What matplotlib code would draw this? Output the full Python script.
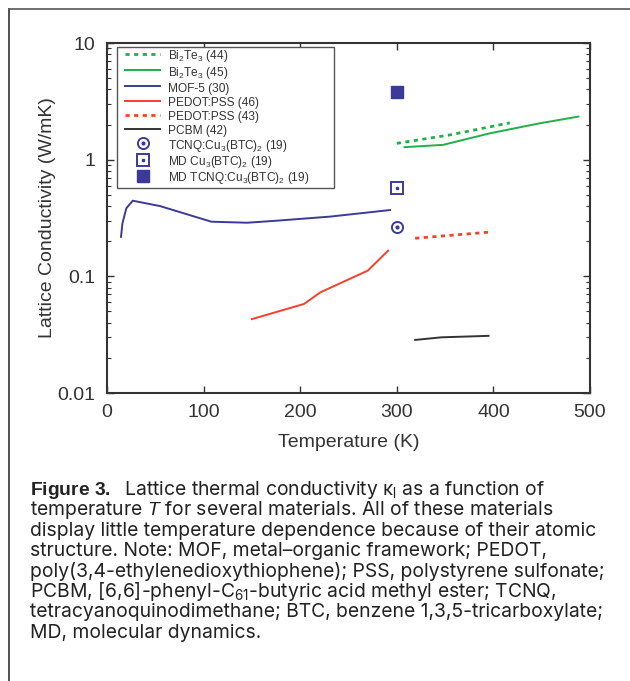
import matplotlib
matplotlib.use("Agg")
import matplotlib.pyplot as plt
from matplotlib.legend_handler import HandlerTuple, HandlerLine2D
from matplotlib.lines import Line2D

plt.rcParams['font.family'] = ['Liberation Sans', 'DejaVu Sans']
plt.rcParams['mathtext.fontset'] = 'custom'
plt.rcParams['mathtext.rm'] = 'Liberation Sans'
plt.rcParams['mathtext.it'] = 'Liberation Sans:italic'
plt.rcParams['mathtext.bf'] = 'Liberation Sans:bold'
plt.rcParams['mathtext.default'] = 'regular'

# ---- data ----
bi44_T = [300, 355, 417]
bi44_k = [1.38, 1.63, 2.07]
bi45_T = [308, 348, 396, 448, 488]
bi45_k = [1.28, 1.34, 1.68, 2.05, 2.34]
mof_T = [14.5, 16, 20, 26.6, 55, 108, 145, 176, 231, 293]
mof_k = [0.218, 0.285, 0.383, 0.445, 0.40, 0.294, 0.288, 0.30, 0.325, 0.37]
ped46_T = [150, 204, 221, 270, 291]
ped46_k = [0.043, 0.058, 0.073, 0.112, 0.166]
ped43_T = [319, 395]
ped43_k = [0.212, 0.239]
pcbm_T = [319, 346, 395]
pcbm_k = [0.0285, 0.030, 0.0309]
tcnq_T = [300]
tcnq_k = [0.267]
mdcu_T = [300]
mdcu_k = [0.57]
mdtcnq_T = [300]
mdtcnq_k = [3.83]

labels = [r'Bi$_2$Te$_3$ (44)', r'Bi$_2$Te$_3$ (45)', 'MOF-5 (30)', 'PEDOT:PSS (46)',
          'PEDOT:PSS (43)', 'PCBM (42)', r'TCNQ:Cu$_3$(BTC)$_2$ (19)',
          r'MD Cu$_3$(BTC)$_2$ (19)', r'MD TCNQ:Cu$_3$(BTC)$_2$ (19)']
xticks = [0, 100, 200, 300, 400, 500]
yticks = [0.01, 0.1, 1, 10]
yticklabels = ['0.01', '0.1', '1', '10']

green = '#1fb04a'
blue = '#3b3a98'
red = '#f5402a'
black = '#333333'
txt = '#333333'

fig = plt.figure(figsize=(6.3, 6.81), dpi=100)
ax = fig.add_axes([107/630, 1-393/681, 483/630, 350/681])

lw = 1.4
dots = (0, (1.5, 1.6))
h1, = ax.plot(bi44_T, bi44_k, color=green, lw=2.0, ls=dots)
h2, = ax.plot(bi45_T, bi45_k, color=green, lw=lw)
h3, = ax.plot(mof_T, mof_k, color=blue, lw=lw)
h4, = ax.plot(ped46_T, ped46_k, color=red, lw=lw)
h5, = ax.plot(ped43_T, ped43_k, color=red, lw=2.0, ls=dots)
h6, = ax.plot(pcbm_T, pcbm_k, color=black, lw=lw)
h7a, = ax.plot(tcnq_T, tcnq_k, ls='none', marker='o', ms=8, mfc='none', mec=blue, mew=1.4)
h7b, = ax.plot(tcnq_T, tcnq_k, ls='none', marker='o', ms=2, mfc=blue, mec=blue)
h8a, = ax.plot(mdcu_T, mdcu_k, ls='none', marker='s', ms=8, mfc='none', mec=blue, mew=1.4)
h8b, = ax.plot(mdcu_T, mdcu_k, ls='none', marker='s', ms=1.8, mfc=blue, mec=blue)
h9, = ax.plot(mdtcnq_T, mdtcnq_k, ls='none', marker='s', ms=8, mfc=blue, mec=blue)

ax.set_yscale('log')
ax.set_xlim(0, 500)
ax.set_ylim(0.01, 10)
ax.set_xticks(xticks)
ax.set_xticklabels([str(t) for t in xticks])
ax.set_yticks(yticks)
ax.set_yticklabels(yticklabels)
ax.tick_params(which='both', direction='in', top=True, right=True, labelsize=14, colors=txt)
ax.tick_params(which='major', length=5, width=1.0)
ax.tick_params(axis='x', which='major', pad=8)
ax.tick_params(axis='y', which='major', pad=8.5)
ax.tick_params(which='minor', length=3, width=0.8)
for s in ax.spines.values():
    s.set_linewidth(1.5)
    s.set_color('#333333')

ax.set_xlabel('Temperature (K)', fontsize=14, color=txt, labelpad=9)
ax.set_ylabel('Lattice Conductivity (W/mK)', fontsize=14, color=txt, labelpad=1)

xp = 0.6
leg = ax.legend([h1, h2, h3, h4, h5, h6, (h7a, h7b), (h8a, h8b), h9], labels,
                handler_map={Line2D: HandlerLine2D(xpad=xp),
                             tuple: HandlerTuple(ndivide=1, pad=0, xpad=xp)},
                loc='upper left', bbox_to_anchor=(10/483, 0.3, 217/483, 346/350 - 0.3),
                mode='expand', fontsize=8.6,
                frameon=True, fancybox=False, edgecolor='#555555', framealpha=1,
                labelspacing=0.04, handleheight=1.33, handlelength=3.5, handletextpad=0.67,
                borderpad=0.1, borderaxespad=0)
leg.get_frame().set_linewidth(1.0)
for t in leg.get_texts():
    t.set_color(txt)

# frame around figure
fig.add_artist(Line2D([9/630, 9/630], [0, 1-9/681], transform=fig.transFigure, color='#333333', lw=1.2))
fig.add_artist(Line2D([9/630, 1], [1-9/681, 1-9/681], transform=fig.transFigure, color='#555555', lw=1.2))

caption = [
    r'$\mathbf{Figure\ 3.}$  Lattice thermal conductivity κ$_\mathrm{l}$ as a function of',
    r'temperature $\mathit{T}$ for several materials. All of these materials',
    'display little temperature dependence because of their atomic',
    'structure. Note: MOF, metal–organic framework; PEDOT,',
    'poly(3,4-ethylenedioxythiophene); PSS, polystyrene sulfonate;',
    r'PCBM, [6,6]-phenyl-C$_{61}$-butyric acid methyl ester; TCNQ,',
    'tetracyanoquinodimethane; BTC, benzene 1,3,5-tricarboxylate;',
    'MD, molecular dynamics.',
]
for i, line in enumerate(caption):
    y = 495 + i * 20.4
    fig.text(30/630, 1 - y/681, line, fontsize=13.9, color='#222222', ha='left', va='baseline',
             family=['Inter', 'Liberation Sans', 'DejaVu Sans'])

fig.savefig('out.png', dpi=100)
